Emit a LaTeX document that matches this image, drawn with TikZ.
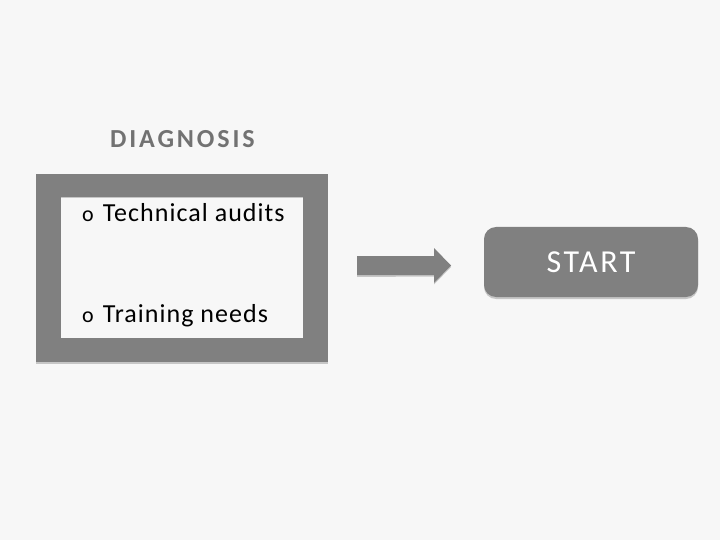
\documentclass[tikz,border=0pt]{standalone}
\usepackage{fontspec}
\setmainfont{Carlito}
\usepackage{tikz}
\usetikzlibrary{positioning,calc}
\usepackage{xcolor}
\definecolor{slidebg}{HTML}{F7F7F7}
\definecolor{boxgray}{HTML}{808080}
\definecolor{titlegray}{HTML}{727272}
\definecolor{shadegray}{HTML}{C6C6C6}
\newcommand{\bmark}{{\fontsize{22}{22}\selectfont o}\hspace{9pt}}

\begin{document}
\begin{tikzpicture}[x=1pt,y=-1pt,every node/.style={font=\fontsize{26}{30}\selectfont\addfontfeatures{LetterSpace=4}},frame/.style={fill=boxgray,minimum width=292pt,minimum height=188pt,inner sep=0pt},panel/.style={fill=slidebg,minimum width=242pt,minimum height=139pt,inner sep=0pt},item/.style={anchor=base west,inner sep=0pt},startbox/.style={fill=boxgray,rounded corners=12pt,minimum width=214pt,minimum height=70pt,inner sep=0pt,text=white,font=\fontsize{32}{36}\selectfont\addfontfeatures{LetterSpace=8}}]
\fill[slidebg] (0,0) rectangle (720,540);
\useasboundingbox (0,0) rectangle (720,540);
\node[anchor=base west,inner sep=0pt,text=titlegray,font=\fontsize{26}{30}\selectfont\bfseries\addfontfeatures{LetterSpace=11}] (title) at (110,148) {DIAGNOSIS};
% frame with its panel
\fill[shadegray] (36,176) rectangle (328,364);
\node[frame] (frame) at (182,268) {};
\fill[shadegray] (61,197.5) rectangle (303,199);
\node[panel] (panel) at (182,268) {};
\node[item] (audits) at (82,222) {\bmark Technical audits};
\node[item] (needs) at (82,322) {\bmark Training needs};
% arrow
\coordinate (tail) at (357,265.5);
\coordinate (tip) at (451,265.5);
\fill[shadegray] ($(tail)+(0,-9.5)$) -- ++(77,0) -- ++(0,-8) -- ($(tip)+(0,1.5)$) -- ($(tip)+(-17,19)$) -- ++(0,-8) -- ($(tail)+(0,11.5)$) -- cycle;
\fill[boxgray] ($(tail)+(0,-9.5)$) -- ++(77,0) -- ++(0,-8) -- (tip) -- ($(tip)+(-17,17.5)$) -- ++(0,-8) -- ($(tail)+(0,9.5)$) -- cycle;
% start box
\fill[shadegray,rounded corners=12pt] (484,229) rectangle (698,299);
\node[startbox] (start) at (591,262) {START};
\end{tikzpicture}
\end{document}
